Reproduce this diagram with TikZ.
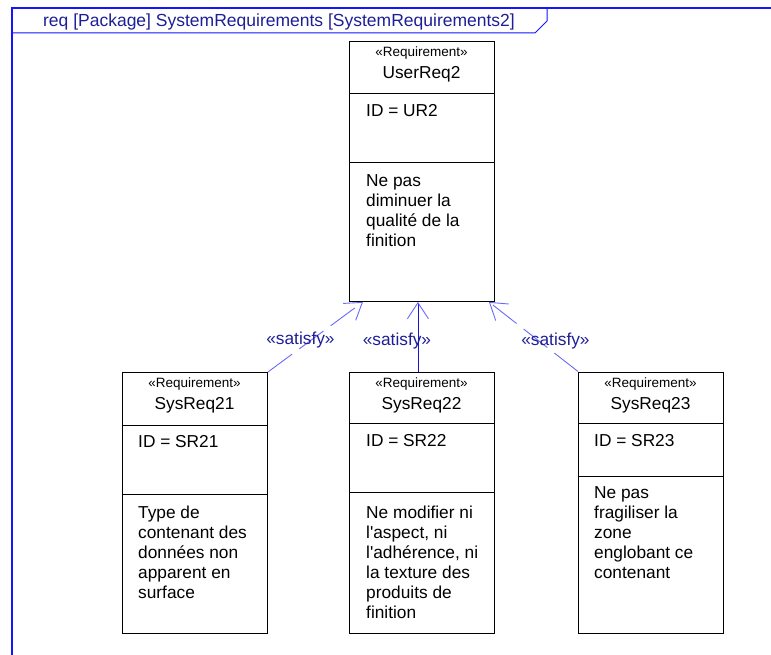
\documentclass[tikz,border=0pt]{standalone}
\usepackage{fontspec}
\setmainfont{Liberation Sans}
\usetikzlibrary{arrows.meta}

\definecolor{framecol}{RGB}{20,20,255}
\definecolor{titlecol}{RGB}{30,30,150}
\definecolor{satcol}{RGB}{105,105,250}
\definecolor{midcol}{RGB}{20,20,210}

\tikzset{
  reqbox/.style={draw=black, line width=0.9pt, minimum width=145pt, minimum height=261pt, inner sep=0pt, anchor=north west},
  stereo/.style={font=\fontsize{13.5}{15}\selectfont, inner sep=0pt},
  reqname/.style={font=\fontsize{17.3}{20}\selectfont, inner sep=0pt},
  reqtext/.style={font=\fontsize{17.3}{20}\selectfont, inner sep=0pt, align=left, anchor=north west},
  satlabel/.style={font=\fontsize{17.3}{20}\selectfont, text=titlecol, inner sep=0pt},
  satisfy/.style={draw=satcol, line width=0.9pt, -{Straight Barb[length=16pt,width=21pt,color=satcol]}},
}

\begin{document}
\begin{tikzpicture}[x=1pt,y=-1pt]
\useasboundingbox (0,0) rectangle (771,655);

% frame and tab
\draw[framecol, line width=1.2pt] (12,655) -- (12,8) -- (771,8);
\draw[framecol, line width=1pt] (12,33) -- (535,33) -- (547,21) -- (547,8);
\node[font=\fontsize{17.5}{20}\selectfont, text=titlecol, inner sep=0pt] (title) at (279,22) {req [Package] SystemRequirements [SystemRequirements2]};

% UserReq2
\node[reqbox, minimum height=260pt] (ur) at (349,41) {};
\draw[line width=0.9pt] (349,93) -- (494,93);
\draw[line width=0.9pt] (349,162) -- (494,162);
\node[stereo] (ur-st) at (421.5,53) {«Requirement»};
\node[reqname] (ur-name) at (421.5,74) {UserReq2};
\node[reqtext] (ur-id) at (366,104) {ID = UR2};
\node[reqtext] (ur-desc) at (366,174) {Ne pas\\diminuer la\\qualité de la\\finition};

% SysReq21
\node[reqbox] (sr21) at (122,372) {};
\draw[line width=0.9pt] (122,425) -- (267,425);
\draw[line width=0.9pt] (122,494) -- (267,494);
\node[stereo] (sr21-st) at (194.5,384) {«Requirement»};
\node[reqname] (sr21-name) at (194.5,405) {SysReq21};
\node[reqtext] (sr21-id) at (138,435.5) {ID = SR21};
\node[reqtext] (sr21-desc) at (138,505.5) {Type de\\contenant des\\données non\\apparent en\\surface};

% SysReq22
\node[reqbox] (sr22) at (349,371.5) {};
\draw[line width=0.9pt] (349,423) -- (494,423);
\draw[line width=0.9pt] (349,492.5) -- (494,492.5);
\node[stereo] (sr22-st) at (421.5,384) {«Requirement»};
\node[reqname] (sr22-name) at (421.5,405) {SysReq22};
\node[reqtext] (sr22-id) at (366,434.5) {ID = SR22};
\node[reqtext] (sr22-desc) at (366,505.5) {Ne modifier ni\\l\textquotesingle aspect, ni\\l\textquotesingle adhérence, ni\\la texture des\\produits de\\finition};

% SysReq23
\node[reqbox] (sr23) at (578,371.5) {};
\draw[line width=0.9pt] (578,423) -- (723,423);
\draw[line width=0.9pt] (578,476) -- (723,476);
\node[stereo] (sr23-st) at (650.5,384) {«Requirement»};
\node[reqname] (sr23-name) at (650.5,405) {SysReq23};
\node[reqtext] (sr23-id) at (594,434.5) {ID = SR23};
\node[reqtext] (sr23-desc) at (594,486.5) {Ne pas\\fragiliser la\\zone\\englobant ce\\contenant};

% satisfy links
\draw[satisfy, dash pattern=on 30pt off 9pt] (sr21.north east) -- ([xshift=14pt]ur.south west)
  node[satlabel, pos=0.5, xshift=-15pt, yshift=-3pt] (sat21) {«satisfy»};
\draw[satisfy, draw=midcol] ([xshift=-4pt]sr22.north) -- ([xshift=-4pt]ur.south)
  node[satlabel, pos=0.5, xshift=-21pt, yshift=-4pt] (sat22) {«satisfy»};
\draw[satisfy, dash pattern=on 30pt off 9pt] (sr23.north west) -- ([xshift=-6pt]ur.south east)
  node[satlabel, pos=0.5, xshift=22pt, yshift=-4pt] (sat23) {«satisfy»};

\end{tikzpicture}
\end{document}
